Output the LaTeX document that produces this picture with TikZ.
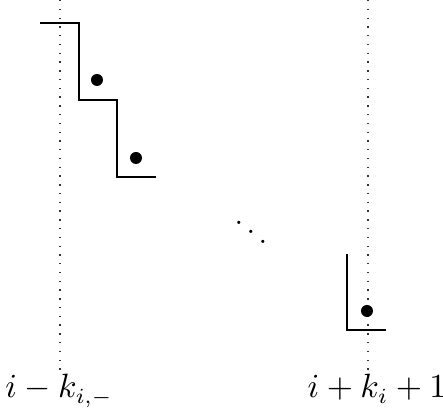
\documentclass[tikz,border=0pt]{standalone}
\begin{document}
\begin{tikzpicture}[x=0.325pt,y=-0.325pt,
  stair/.style={line width=0.45pt},
  guide/.style={dash pattern=on 0.45pt off 2.4pt, line width=0.45pt, black!80},
  blob/.style={circle, fill=black, inner sep=0pt, minimum size=3.9pt},
  lab/.style={inner sep=0pt, font=\fontsize{10.5}{12}\selectfont}]
\useasboundingbox (0,0) rectangle (443,419);
% guides
\coordinate (g1t) at (60,0);
\coordinate (g1b) at (60,372);
\coordinate (g2t) at (368,0);
\coordinate (g2b) at (368,372);
\draw[guide] (g1t) -- (g1b);
\draw[guide] (g2t) -- (g2b);
% staircase
\coordinate (s0) at (40,23);
\coordinate (s1) at (79,23);
\coordinate (s2) at (79,100);
\coordinate (s3) at (117,100);
\coordinate (s4) at (117,177);
\coordinate (s5) at (156,177);
\draw[stair] (s0) -- (s1) -- (s2) -- (s3) -- (s4) -- (s5);
\coordinate (t0) at (347,254);
\coordinate (t1) at (347,330);
\coordinate (t2) at (386,330);
\draw[stair] (t0) -- (t1) -- (t2);
% points
\node[blob] (p1) at (97,80) {};
\node[blob] (p2) at (136,158) {};
\node[blob] (p3) at (367,311) {};
\node (dd) at (251,223) {$\ddots$};
% labels
\node[lab, anchor=base] (l1) at (59,398) {$i-k_{i,-}$};
\node[lab, anchor=base] (l2) at (377,398) {$i+k_i+1$};
\end{tikzpicture}
\end{document}
